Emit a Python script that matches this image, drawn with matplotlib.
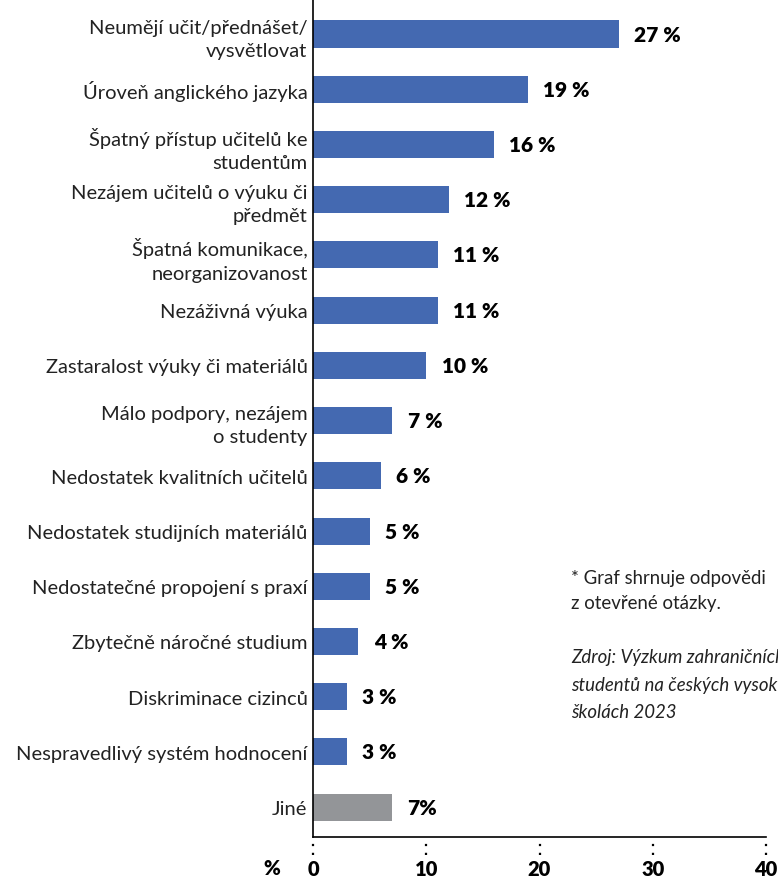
import matplotlib
matplotlib.use("Agg")
from matplotlib import pyplot as plt
import numpy as np

categories = [
    "Neumějí učit/přednášet/\nvysvětlovat",
    "Úroveň anglického jazyka",
    "Špatný přístup učitelů ke\nstudentům",
    "Nezájem učitelů o výuku či\npředmět",
    "Špatná komunikace,\nneorganizovanost",
    "Nezáživná výuka",
    "Zastaralost výuky či materiálů",
    "Málo podpory, nezájem\no studenty",
    "Nedostatek kvalitních učitelů",
    "Nedostatek studijních materiálů",
    "Nedostatečné propojení s praxí",
    "Zbytečně náročné studium",
    "Diskriminace cizinců",
    "Nespravedlivý systém hodnocení",
    "Jiné",
]
values = [27, 19, 16, 12, 11, 11, 10, 7, 6, 5, 5, 4, 3, 3, 7]
value_labels = ["27 %", "19 %", "16 %", "12 %", "11 %", "11 %", "10 %", "7 %",
                "6 %", "5 %", "5 %", "4 %", "3 %", "3 %", "7%"]
xticks = [0, 10, 20, 30, 40]

BLUE = "#4469b1"
GREY = "#939598"
FONT = ["Lato", "DejaVu Sans"]

plt.rcParams["font.family"] = FONT

fig = plt.figure(figsize=(7.78, 8.78), dpi=100)
ax = fig.add_axes([313 / 778, 40 / 878, 453 / 778, 838 / 878])

colors = [BLUE] * (len(values) - 1) + [GREY]
y = np.arange(len(values))
ax.barh(y, values, height=0.49, color=colors)

ax.set_xlim(0, 40)
ax.set_ylim(14.54, -0.634)

ax.set_yticks(y)
ax.set_yticklabels(categories, fontsize=14.5, color="#222222", multialignment="right",
                   linespacing=1.45)
ax.tick_params(axis="y", length=0, pad=4)

ax.set_xticks(xticks)
ax.set_xticklabels([str(t) for t in xticks], fontsize=14.5, fontweight="heavy")
ax.tick_params(axis="x", length=0, pad=16)

for t in xticks:
    ax.vlines(t, -0.022, -0.004, transform=ax.get_xaxis_transform(), colors="black",
              linestyles=(0, (1, 3)), linewidth=1.6, clip_on=False)

ax.text(-3.6, -0.036, "%", transform=ax.get_xaxis_transform(), fontsize=14.5,
        fontweight="heavy", ha="center", va="center")

for yi, v, lab in zip(y, values, value_labels):
    ax.text(v + 1.35, yi, lab, va="center", ha="left", fontsize=15, fontweight="heavy")

for side in ["top", "right"]:
    ax.spines[side].set_visible(False)
ax.spines["left"].set_linewidth(1.2)
ax.spines["bottom"].set_linewidth(1.2)

fig.text(571 / 778, 1 - 591 / 878, "* Graf shrnuje odpovědi\nz otevřené otázky.",
         fontsize=13.4, va="center", ha="left", linespacing=1.6, color="#222222")
fig.text(571 / 778, 1 - 685 / 878,
         "Zdroj: Výzkum zahraničních\nstudentů na českých vysokých\nškolách 2023",
         fontsize=13.4, style="italic", va="center", ha="left", linespacing=1.75,
         color="#222222")

fig.savefig("out.png", dpi=100)
